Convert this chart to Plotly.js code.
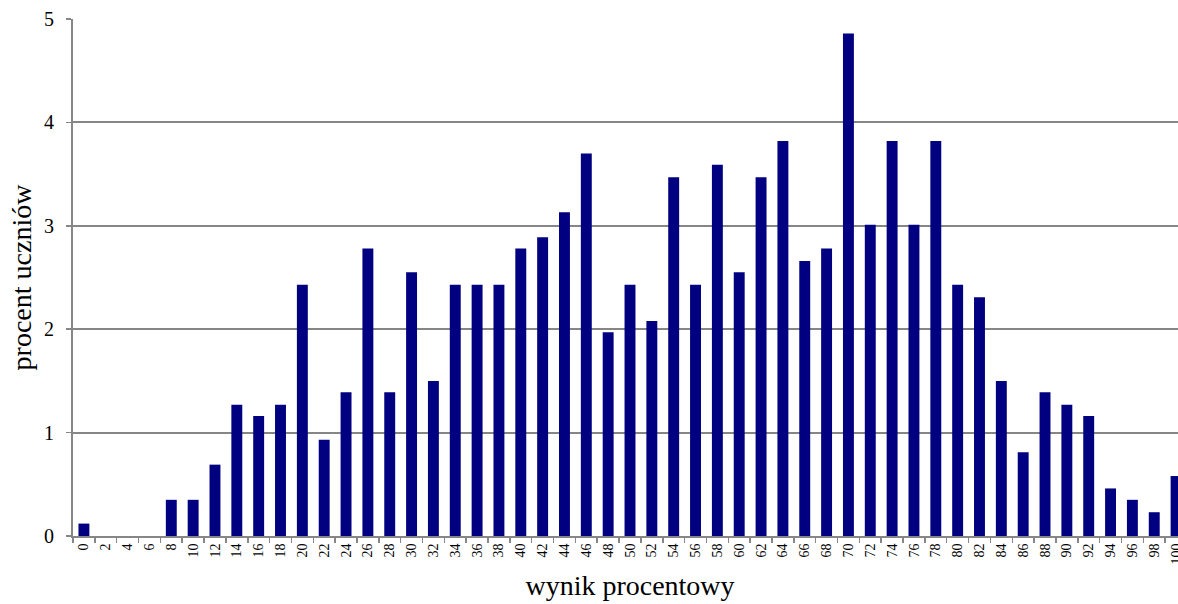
<!DOCTYPE html>
<html>
<head>
<meta charset="utf-8">
<script src="https://cdn.plot.ly/plotly-3.0.1.min.js"></script>
<style>
html, body { margin: 0; padding: 0; overflow: hidden; background: #fff; width: 1178px; height: 604px; }
#chart { width: 1200px; height: 604px; }
</style>
</head>
<body>
<div id="chart"></div>
<script>
const categories = ["0","2","4","6","8","10","12","14","16","18","20","22","24","26","28","30","32","34","36","38","40","42","44","46","48","50","52","54","56","58","60","62","64","66","68","70","72","74","76","78","80","82","84","86","88","90","92","94","96","98","100"];
const percentStudents = [0.12,0,0,0,0.35,0.35,0.69,1.27,1.16,1.27,2.43,0.93,1.39,2.78,1.39,2.55,1.50,2.43,2.43,2.43,2.78,2.89,3.13,3.70,1.97,2.43,2.08,3.47,2.43,3.59,2.55,3.47,3.82,2.66,2.78,4.86,3.01,3.82,3.01,3.82,2.43,2.31,1.50,0.81,1.39,1.27,1.16,0.46,0.35,0.23,0.58];
const yTicks = [0,1,2,3,4,5];
const xTitle = "wynik procentowy";
const yTitle = "procent uczniów";

const serif = "Liberation Serif, Times New Roman, serif";
const trace = {
  type: "bar",
  x: categories,
  y: percentStudents,
  marker: { color: "#000080", line: { width: 0 } },
  hoverinfo: "x+y"
};
const layout = {
  width: 1200,
  height: 604,
  margin: { l: 73, r: 13, t: 19, b: 68 },
  paper_bgcolor: "#ffffff",
  plot_bgcolor: "#ffffff",
  bargap: 0.5,
  showlegend: false,
  font: { family: serif, color: "#000" },
  xaxis: {
    type: "category",
    showgrid: false,
    showline: true,
    linecolor: "#868686",
    linewidth: 2,
    ticks: "outside",
    tickson: "boundaries",
    ticklen: 5,
    tickcolor: "#868686",
    tickwidth: 1.5,
    tickangle: -90,
    tickfont: { family: serif, size: 14, color: "#000" },
    automargin: false,
    fixedrange: true,
    title: { text: xTitle, font: { family: serif, size: 28, color: "#000" }, standoff: 12 }
  },
  yaxis: {
    range: [0, 5],
    tickvals: yTicks,
    showgrid: true,
    gridcolor: "#868686",
    gridwidth: 2,
    showline: true,
    linecolor: "#868686",
    linewidth: 2,
    ticks: "outside",
    ticklen: 5,
    tickcolor: "#868686",
    tickwidth: 1.5,
    zeroline: false,
    ticklabelstandoff: 8,
    tickfont: { family: serif, size: 20, color: "#000" },
    automargin: false,
    fixedrange: true,
    title: { text: yTitle, font: { family: serif, size: 28, color: "#000" }, standoff: 4 }
  }
};
Plotly.newPlot("chart", [trace], layout, { displayModeBar: false, staticPlot: true });
</script>
</body>
</html>
